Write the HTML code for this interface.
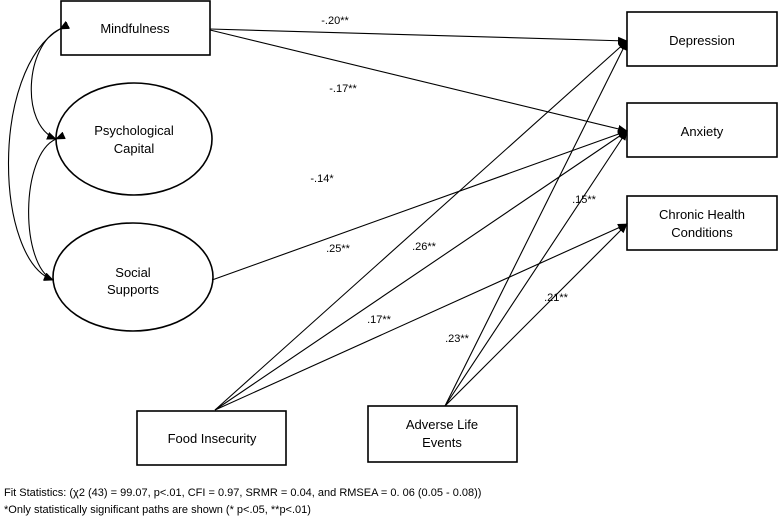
<!DOCTYPE html>
<html><head><style>
body{margin:0;background:#fff;}
svg{display:block;font-family:"Liberation Sans",Arial,sans-serif;}
</style></head><body>
<svg width="778" height="517" viewBox="0 0 778 517" xmlns="http://www.w3.org/2000/svg">
<defs><marker id="a" markerWidth="10" markerHeight="8" refX="9" refY="4" orient="auto" markerUnits="userSpaceOnUse"><path d="M0,0 L10,4 L0,8 z" fill="#000"/></marker></defs>
<g fill="#fff" stroke="#000" stroke-width="1.6">
<rect x="61" y="1" width="149" height="54"/>
<ellipse cx="134" cy="139" rx="78" ry="56"/>
<ellipse cx="133" cy="277" rx="80" ry="54"/>
<rect x="627" y="12" width="150" height="54"/>
<rect x="627" y="103" width="150" height="54"/>
<rect x="627" y="196" width="150" height="54"/>
<rect x="137" y="411" width="149" height="54"/>
<rect x="368" y="406" width="149" height="56"/>
</g>
<g stroke="#000" stroke-width="1.1" fill="none" marker-end="url(#a)">
<line x1="210" y1="29" x2="627" y2="41"/>
<line x1="210" y1="30" x2="627" y2="131"/>
<line x1="212" y1="280" x2="627" y2="131"/>
<line x1="215" y1="410" x2="627" y2="41"/>
<line x1="215" y1="410" x2="627" y2="131"/>
<line x1="215" y1="410" x2="627" y2="224"/>
<line x1="445" y1="406" x2="627" y2="41"/>
<line x1="445" y1="406" x2="627" y2="131"/>
<line x1="445" y1="406" x2="627" y2="224"/>
</g>
<g stroke="#000" stroke-width="1.1" fill="none" marker-start="url(#a)" marker-end="url(#a)">
<path d="M60,29 C25,45 20,125 56,139" />
<path d="M60,29 C-10,70 -5,260 53,280" />
<path d="M56,139 C20,155 20,265 53,280" />
</g>
<g font-size="13" text-anchor="middle" fill="#000">
<text x="135" y="33">Mindfulness</text>
<text x="134" y="135">Psychological</text>
<text x="134" y="153">Capital</text>
<text x="133" y="277">Social</text>
<text x="133" y="294">Supports</text>
<text x="702" y="45">Depression</text>
<text x="702" y="136">Anxiety</text>
<text x="702" y="219">Chronic Health</text>
<text x="702" y="237">Conditions</text>
<text x="212" y="443">Food Insecurity</text>
<text x="442" y="429">Adverse Life</text>
<text x="442" y="447">Events</text>
</g>
<g font-size="11" fill="#000" text-anchor="middle">
<text x="335" y="24">-.20**</text>
<text x="343" y="92">-.17**</text>
<text x="322" y="182">-.14*</text>
<text x="338" y="252">.25**</text>
<text x="424" y="250">.26**</text>
<text x="584" y="203">.15**</text>
<text x="556" y="301">.21**</text>
<text x="457" y="342">.23**</text>
<text x="379" y="323">.17**</text>
</g>
<g font-size="11" fill="#000">
<text x="4" y="496">Fit Statistics: (χ2 (43) = 99.07, p&lt;.01, CFI = 0.97, SRMR = 0.04, and RMSEA = 0. 06 (0.05 - 0.08))</text>
<text x="4" y="513">*Only statistically significant paths are shown (* p&lt;.05, **p&lt;.01)</text>
</g>
</svg>
</body></html>
